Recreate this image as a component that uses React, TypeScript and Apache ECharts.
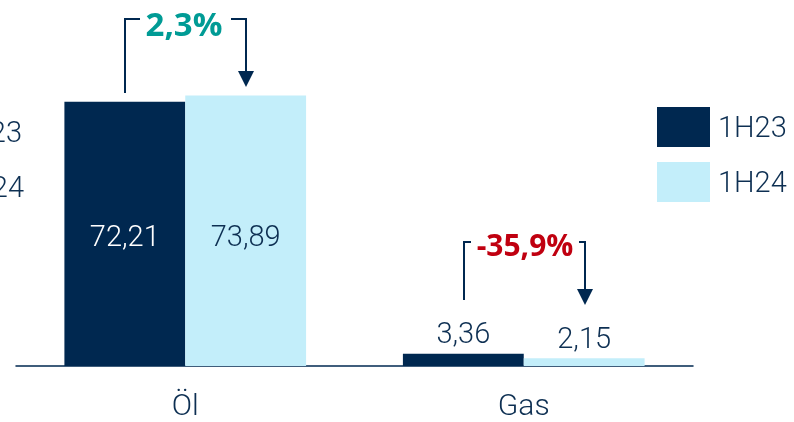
import React, { useEffect, useRef } from "react";
import * as echarts from "echarts";

const categories = ["Öl", "Gas"];
const seriesNames = ["1H23", "1H24"];
const values1H23 = [72.21, 3.36];
const values1H24 = [73.89, 2.15];
const changes = ["2,3%", "-35,9%"];

const NAVY = "#002850";
const LIGHT = "#C3EEFA";
const TEXT = "#0D2F52";
const TEAL = "#009B95";
const RED = "#C00010";
const FONT = "Roboto, 'Liberation Sans', sans-serif";
const BOLD_FONT = "'Open Sans', 'Liberation Sans', sans-serif";

const fmt = (v: number) => v.toFixed(2).replace(".", ",");

function buildData(vals: number[], onDark: boolean) {
  return vals.map((v, i) => ({
    value: v,
    label:
      i === 0
        ? { position: "insideBottom", distance: 116, color: onDark ? "#FFFFFF" : TEXT }
        : { position: "top", distance: 6, color: TEXT },
  }));
}

function bracket(x1: number, x2: number, yTop: number, y1: number, y2: number, tx1: number, tx2: number) {
  return [
    {
      type: "polyline",
      shape: { points: [[x1, y1], [x1, yTop], [tx1, yTop]] },
      style: { stroke: NAVY, lineWidth: 2, fill: "none" },
    },
    {
      type: "polyline",
      shape: { points: [[tx2, yTop], [x2, yTop], [x2, y2 - 14]] },
      style: { stroke: NAVY, lineWidth: 2, fill: "none" },
    },
    {
      type: "polygon",
      shape: { points: [[x2 - 8, y2 - 16], [x2 + 8, y2 - 16], [x2, y2]] },
      style: { fill: NAVY },
    },
  ];
}

export default function App() {
  const ref = useRef<HTMLDivElement>(null);
  useEffect(() => {
    if (!ref.current) return;
    const chart = echarts.init(ref.current, null, { renderer: "svg" });
    chart.setOption({
      animation: false,
      grid: { left: 16, right: 101, top: 0, bottom: 56, containLabel: false },
      legend: {
        orient: "vertical",
        left: 657,
        top: 107,
        padding: 0,
        itemWidth: 53,
        itemHeight: 40,
        itemGap: 15,
        icon: "rect",
        data: seriesNames,
        textStyle: { fontFamily: FONT, fontWeight: 300, fontSize: 29, color: TEXT, padding: [8, 0, 0, 3] },
        itemStyle: { borderWidth: 0 },
        selectedMode: false,
      },
      xAxis: {
        type: "category",
        data: categories,
        axisLine: { lineStyle: { color: NAVY, width: 1.5 } },
        axisTick: { show: false },
        axisLabel: { fontFamily: FONT, fontWeight: 300, fontSize: 30, color: TEXT, margin: 23 },
      },
      yAxis: { type: "value", min: 0, max: 100, show: false, splitLine: { show: false } },
      series: [
        {
          name: seriesNames[0],
          type: "bar",
          barWidth: "35.7%",
          barGap: "0%",
          itemStyle: { color: NAVY },
          label: { show: true, fontFamily: FONT, fontWeight: 300, fontSize: 29, formatter: (p: any) => fmt(p.value) },
          data: buildData(values1H23, true),
        },
        {
          name: seriesNames[1],
          type: "bar",
          barWidth: "35.7%",
          barGap: "0%",
          itemStyle: { color: LIGHT },
          label: { show: true, fontFamily: FONT, fontWeight: 300, fontSize: 29, formatter: (p: any) => fmt(p.value) },
          data: buildData(values1H24, false),
        },
      ],
      graphic: [
        ...bracket(125, 246, 19, 93, 87, 140, 231),
        ...bracket(464, 585, 242, 300, 305, 471, 579),
        {
          type: "text",
          x: 184,
          y: 23,
          style: { text: changes[0], fill: TEAL, fontFamily: BOLD_FONT, fontWeight: "bold", fontSize: 33, align: "center", verticalAlign: "middle" },
        },
        {
          type: "text",
          x: 525,
          y: 244,
          style: { text: changes[1], fill: RED, fontFamily: BOLD_FONT, fontWeight: "bold", fontSize: 30, align: "center", verticalAlign: "middle" },
        },
        {
          type: "text",
          x: 22,
          y: 132,
          style: { text: seriesNames[0], fill: TEXT, fontFamily: FONT, fontWeight: 300, fontSize: 29, align: "right", verticalAlign: "middle" },
        },
        {
          type: "text",
          x: 24,
          y: 187,
          style: { text: seriesNames[1], fill: TEXT, fontFamily: FONT, fontWeight: 300, fontSize: 29, align: "right", verticalAlign: "middle" },
        },
      ],
    });
    return () => chart.dispose();
  }, []);
  return <div ref={ref} style={{ position: "fixed", left: 0, top: 0, width: 794, height: 422 }} />;
}
